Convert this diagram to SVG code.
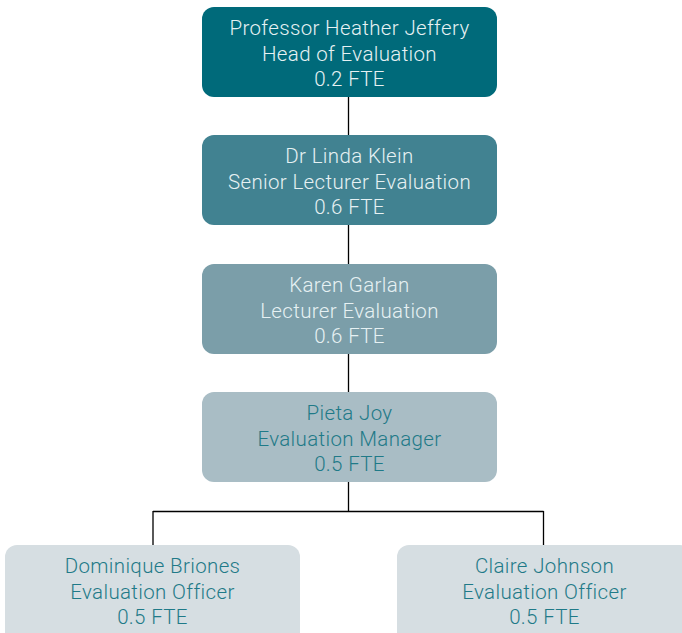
<svg xmlns="http://www.w3.org/2000/svg" width="682" height="633" viewBox="0 0 682 633">
<style>
.box{stroke:none}
.t{font-family:Roboto,"Open Sans",sans-serif;font-size:20.5px;font-weight:300;letter-spacing:0.35px;text-anchor:middle}
.light{fill:#e6f1f3}
.dark{fill:#1f7a88}
.conn{stroke:#000;stroke-width:1.3;fill:none}
</style>
<rect width="682" height="633" fill="#fff"/>
<g id="connectors">
<path class="conn" d="M348.5 97V392M348.5 482V511.5M153 511.5H543.5M153 511V546M543.5 511V546"/>
</g>
<g id="n1">
<rect class="box" x="202" y="7" width="295" height="90" rx="12" fill="#006a7a"/>
<text class="t light" x="349.5" y="35">Professor Heather Jeffery</text>
<text class="t light" x="349.5" y="61">Head of Evaluation</text>
<text class="t light" x="349.5" y="86">0.2 FTE</text>
</g>
<g id="n2">
<rect class="box" x="202" y="135" width="295" height="90" rx="12" fill="#418291"/>
<text class="t light" x="349.5" y="163">Dr Linda Klein</text>
<text class="t light" x="349.5" y="189">Senior Lecturer Evaluation</text>
<text class="t light" x="349.5" y="214">0.6 FTE</text>
</g>
<g id="n3">
<rect class="box" x="202" y="264" width="295" height="90" rx="12" fill="#7b9ea9"/>
<text class="t light" x="349.5" y="292">Karen Garlan</text>
<text class="t light" x="349.5" y="318">Lecturer Evaluation</text>
<text class="t light" x="349.5" y="343">0.6 FTE</text>
</g>
<g id="n4">
<rect class="box" x="202" y="392" width="295" height="90" rx="12" fill="#a9bdc5"/>
<text class="t dark" x="349.5" y="420">Pieta Joy</text>
<text class="t dark" x="349.5" y="446">Evaluation Manager</text>
<text class="t dark" x="349.5" y="471">0.5 FTE</text>
</g>
<g id="n5">
<rect class="box" x="5" y="545" width="295" height="100" rx="12" fill="#d6dee2"/>
<text class="t dark" x="152.5" y="573">Dominique Briones</text>
<text class="t dark" x="152.5" y="599">Evaluation Officer</text>
<text class="t dark" x="152.5" y="624">0.5 FTE</text>
</g>
<g id="n6">
<rect class="box" x="397" y="545" width="295" height="100" rx="12" fill="#d6dee2"/>
<text class="t dark" x="544.5" y="573">Claire Johnson</text>
<text class="t dark" x="544.5" y="599">Evaluation Officer</text>
<text class="t dark" x="544.5" y="624">0.5 FTE</text>
</g>
</svg>
